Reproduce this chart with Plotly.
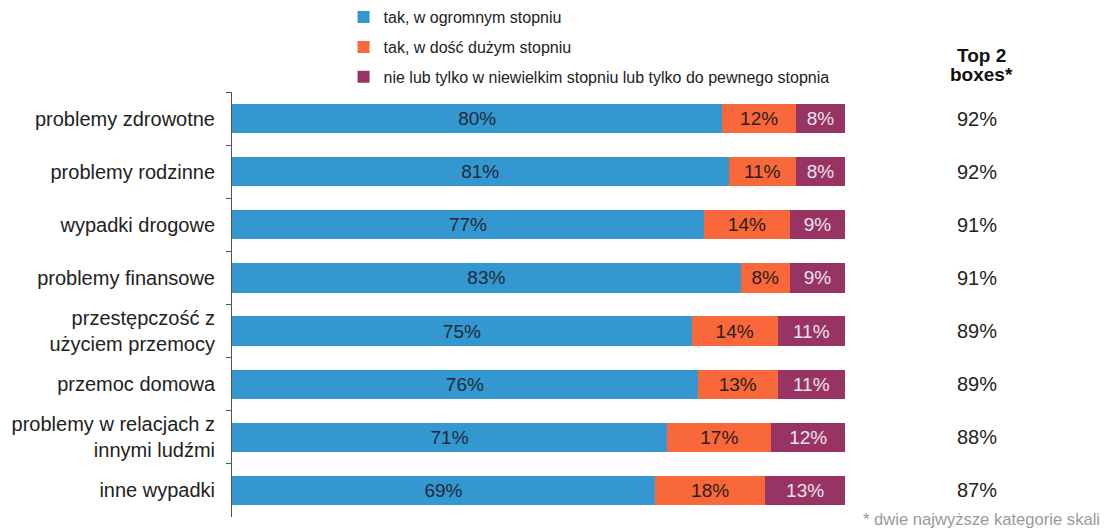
import plotly.graph_objects as go

categories = [
    "problemy zdrowotne",
    "problemy rodzinne",
    "wypadki drogowe",
    "problemy finansowe",
    "przestępczość z<br>użyciem przemocy",
    "przemoc domowa",
    "problemy w relacjach z<br>innymi ludźmi",
    "inne wypadki",
]
ogromny = [80, 81, 77, 83, 75, 76, 71, 69]
dosc_duzy = [12, 11, 14, 8, 14, 13, 17, 18]
niewielki = [8, 8, 9, 9, 11, 11, 12, 13]
top2 = [92, 92, 91, 91, 89, 89, 88, 87]

series_names = [
    "tak, w ogromnym stopniu",
    "tak, w dość dużym stopniu",
    "nie lub tylko w niewielkim stopniu lub tylko do pewnego stopnia",
]
colors = ["#3597cf", "#f8683a", "#973463"]
text_colors = ["#1c2b3c", "#2e1c16", "#ece2ec"]

fig = go.Figure()
for i, (name, vals) in enumerate(zip(series_names, [ogromny, dosc_duzy, niewielki])):
    fig.add_trace(go.Bar(
        y=categories,
        x=vals,
        orientation="h",
        name=name,
        legendgroup=f"g{i}",
        marker=dict(color=colors[i], line=dict(width=0)),
        text=[f"{v}%" for v in vals],
        textposition="inside",
        insidetextanchor="middle",
        textfont=dict(color=text_colors[i], size=19),
        hoverinfo="skip",
    ))

# kolumna Top 2 boxes
for cat, v in zip(categories, top2):
    fig.add_annotation(
        x=1.216, xref="paper", xanchor="center", y=cat, yref="y",
        text=f"{v}%", showarrow=False,
        font=dict(size=20, color="#222222"),
    )

fig.add_annotation(
    x=1.222, xref="paper", xanchor="center", y=1.087, yref="paper", yanchor="middle",
    text="<b>Top 2</b>", showarrow=False,
    font=dict(size=19, color="#111111"),
)
fig.add_annotation(
    x=1.222, xref="paper", xanchor="center", y=1.042, yref="paper", yanchor="middle",
    text="<b>boxes*</b>", showarrow=False,
    font=dict(size=19, color="#111111"),
)
fig.add_annotation(
    x=1.42, xref="paper", xanchor="right", y=-0.005, yref="paper", yanchor="middle",
    text="* dwie najwyższe kategorie skali", showarrow=False,
    font=dict(size=16.6, color="#9a9a9a"),
)

# figura przesunięta o margines body (8px)
fig.update_layout(
    width=1102,
    height=523,
    barmode="stack",
    bargap=0.45,
    plot_bgcolor="white",
    paper_bgcolor="white",
    font=dict(family="Liberation Sans, Arial, sans-serif", color="#222222"),
    margin=dict(l=224, r=265, t=84, b=14, autoexpand=False),
    showlegend=True,
    legend=dict(
        x=0.182, xanchor="left", y=1.216, yanchor="top",
        font=dict(size=16, color="#222222"),
        tracegroupgap=6,
        itemwidth=30,
        bgcolor="rgba(0,0,0,0)",
    ),
    xaxis=dict(
        range=[0, 100], visible=False, fixedrange=True,
    ),
    yaxis=dict(
        autorange="reversed",
        showline=True, linecolor="#555555", linewidth=1,
        ticks="outside", tickson="boundaries", ticklen=5, tickcolor="#555555",
        tickfont=dict(size=20, color="#222222"),
        ticklabelstandoff=12,
        automargin=False,
        showgrid=False,
    ),
)

fig.write_html("out.html")
